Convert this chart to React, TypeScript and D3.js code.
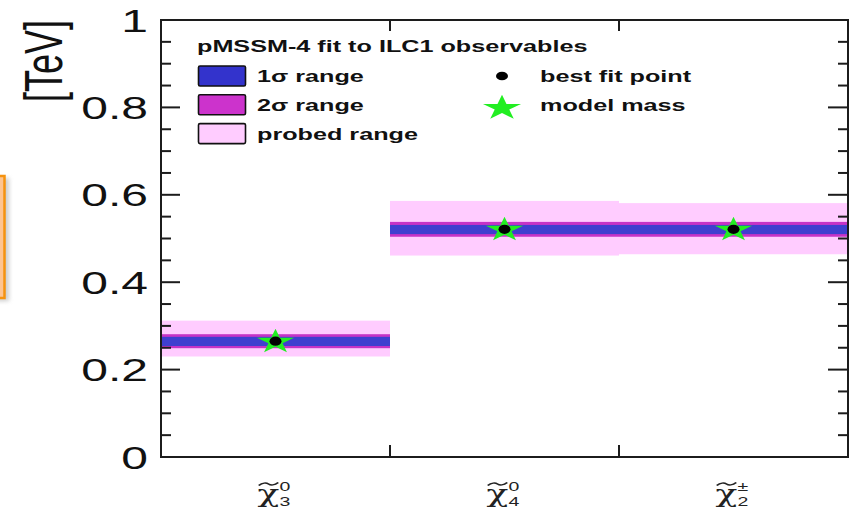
import React from 'react';
import * as d3 from 'd3';

// Particle labels (tilde-chi with super/subscripts)
const particleSymbols = ['χ', 'χ', 'χ'];
const superscripts = ['0', '0', '±'];
const subscripts = ['3', '4', '2'];

// Masses in TeV
const bestFit = [0.265, 0.521, 0.521];
const modelMass = [0.265, 0.521, 0.521];
const sigma1Low = [0.254, 0.510, 0.510];
const sigma1High = [0.275, 0.531, 0.531];
const sigma2Low = [0.249, 0.504, 0.504];
const sigma2High = [0.281, 0.538, 0.538];
const probedLow = [0.230, 0.461, 0.464];
const probedHigh = [0.312, 0.586, 0.581];

const yTickValues = [0, 0.2, 0.4, 0.6, 0.8, 1];
const yTickLabels = ['0', '0.2', '0.4', '0.6', '0.8', '1'];
const yMinorStep = 0.05;
const yAxisTitle = '[TeV]';

const legendTitle = 'pMSSM-4 fit to ILC1 observables';
const legendBandLabels = ['1σ range', '2σ range', 'probed range'];
const legendMarkerLabels = ['best fit point', 'model mass'];

const COLORS = {
  sigma1: '#3f3fcf',
  sigma2: '#c633c6',
  probed: '#ffccff',
  legendSigma1: '#3333cc',
  legendSigma2: '#cc33cc',
  legendProbed: '#ffccff',
  star: '#22ee22',
  frame: '#1c1c1c',
};

const W = 854;
const H = 510;
const SX = 1.5; // horizontal stretch of the figure
const FONT = '"Liberation Sans", Arial, Helvetica, sans-serif';

// small wave drawn over the chi
const tildePath = 'M-6.5,1.5 C-4,-1.5 -1.5,-1.5 0,0 S4,1.5 6.5,-1.5';

export default function App() {
  const idx = d3.range(particleSymbols.length);
  const x = d3.scaleBand<number>().domain(idx).range([161, 848]).paddingInner(0).paddingOuter(0);
  const y = d3.scaleLinear().domain([0, 1]).range([457, 20]);

  const [x0, x1] = x.range();
  const [yb, yt] = y.range();
  const bw = x.bandwidth();

  const minorTicks = d3.range(0, 1 + 1e-9, yMinorStep).filter(
    (v) => !yTickValues.some((m) => Math.abs(m - v) < 1e-9)
  );
  const binEdges = idx.slice(1).map((i) => x(i) as number);

  const starPath = d3.symbol(d3.symbolStar, 190)() as string;
  const legendStar = d3.symbol(d3.symbolStar, 200)() as string;

  const band = (lo: number[], hi: number[], fill: string) =>
    idx.map((i) => (
      <rect
        key={i}
        x={x(i)}
        width={bw}
        y={y(hi[i])}
        height={y(lo[i]) - y(hi[i])}
        fill={fill}
      />
    ));

  return (
    <svg
      width={W}
      height={H}
      viewBox={`0 0 ${W} ${H}`}
      style={{ position: 'absolute', left: 0, top: 0, background: '#fff' }}
      fontFamily={FONT}
    >
      <defs>
        <filter id="boxShadow" x="-50%" y="-10%" width="200%" height="120%">
          <feGaussianBlur stdDeviation="2" />
        </filter>
      </defs>
      <rect x={0} y={0} width={W} height={H} fill="#fff" />

      {/* partial orange callout box at the left edge */}
      <rect x={-10} y={178} width={19} height={123} fill="#9a9a9a" opacity={0.5} filter="url(#boxShadow)" />
      <rect x={-10} y={176} width={14.5} height={122} fill="#fec490" stroke="#f5920f" strokeWidth={2.5} />

      {/* ranges */}
      <g>{band(probedLow, probedHigh, COLORS.probed)}</g>
      <g>{band(sigma2Low, sigma2High, COLORS.sigma2)}</g>
      <g>{band(sigma1Low, sigma1High, COLORS.sigma1)}</g>

      {/* model masses and best-fit points */}
      {idx.map((i) => {
        const cx = (x(i) as number) + bw / 2;
        return (
          <g key={i}>
            <path d={starPath} transform={`translate(${cx},${y(modelMass[i]) + 0.5}) scale(${SX},1)`} fill={COLORS.star} />
            <ellipse cx={cx} cy={y(bestFit[i])} rx={6} ry={4.6} fill="#000" />
          </g>
        );
      })}

      {/* frame */}
      <rect x={x0} y={yt} width={x1 - x0} height={yb - yt} fill="none" stroke={COLORS.frame} strokeWidth={2} />

      {/* y ticks, both sides */}
      {yTickValues.map((v) => (
        <g key={`M${v}`} stroke={COLORS.frame} strokeWidth={2}>
          <line x1={x0} x2={x0 + 19} y1={y(v)} y2={y(v)} />
          <line x1={x1} x2={x1 - 20} y1={y(v)} y2={y(v)} />
        </g>
      ))}
      {minorTicks.map((v) => (
        <g key={`m${v}`} stroke={COLORS.frame} strokeWidth={2}>
          <line x1={x0} x2={x0 + 10} y1={y(v)} y2={y(v)} />
          <line x1={x1} x2={x1 - 10} y1={y(v)} y2={y(v)} />
        </g>
      ))}
      {/* x ticks at the bin edges */}
      {binEdges.map((ex) => (
        <g key={ex} stroke={COLORS.frame} strokeWidth={2}>
          <line x1={ex} x2={ex} y1={yb} y2={yb - 12} />
          <line x1={ex} x2={ex} y1={yt} y2={yt + 11} />
        </g>
      ))}

      {/* y tick labels */}
      {yTickValues.map((v, i) => (
        <text
          key={`l${v}`}
          transform={`translate(148,${y(v) + 11.5}) scale(${SX},1)`}
          textAnchor="end"
          fontSize={32}
          fill="#111"
        >
          {yTickLabels[i]}
        </text>
      ))}

      {/* y axis title */}
      <text
        transform={`translate(62,20) scale(${SX},1) rotate(-90)`}
        textAnchor="end"
        fontSize={36}
        fill="#111"
      >
        {yAxisTitle}
      </text>

      {/* particle labels */}
      {idx.map((i) => {
        const cx = (x(i) as number) + bw / 2;
        return (
          <g key={`p${i}`} fill="#222">
            <text
              transform={`translate(${cx - 7},502) scale(${SX},1)`}
              textAnchor="middle"
              fontSize={24}
              fontFamily='"DejaVu Serif", serif'
            >
              {particleSymbols[i]}
            </text>
            <path
              d={tildePath}
              transform={`translate(${cx - 7},484) scale(${SX},1)`}
              fill="none"
              stroke="#222"
              strokeWidth={1.3}
            />
            <text transform={`translate(${cx + 4},491) scale(${SX},1)`} fontSize={13}>
              {superscripts[i]}
            </text>
            <text transform={`translate(${cx + 4},506) scale(${SX},1)`} fontSize={13}>
              {subscripts[i]}
            </text>
          </g>
        );
      })}

      {/* legend */}
      <g fontWeight="bold" fill="#111" fontSize={16.8}>
        <text transform={`translate(197,52) scale(${SX},1)`}>{legendTitle}</text>
        {legendBandLabels.map((lab, i) => {
          const fills = [COLORS.legendSigma1, COLORS.legendSigma2, COLORS.legendProbed];
          const by = 66 + i * 28.8;
          return (
            <g key={lab}>
              <rect x={198.5} y={by} width={47} height={20} rx={1.5} fill={fills[i]} stroke="#111" strokeWidth={1.6} />
              <text transform={`translate(257,${by + 16}) scale(${SX},1)`}>{lab}</text>
            </g>
          );
        })}
        <ellipse cx={502} cy={76} rx={6} ry={4.3} fill="#000" />
        <text transform={`translate(540,82) scale(${SX},1)`}>{legendMarkerLabels[0]}</text>
        <path d={legendStar} transform={`translate(502,108) scale(${SX},1)`} fill={COLORS.star} />
        <text transform={`translate(540,111) scale(${SX},1)`}>{legendMarkerLabels[1]}</text>
      </g>
    </svg>
  );
}
